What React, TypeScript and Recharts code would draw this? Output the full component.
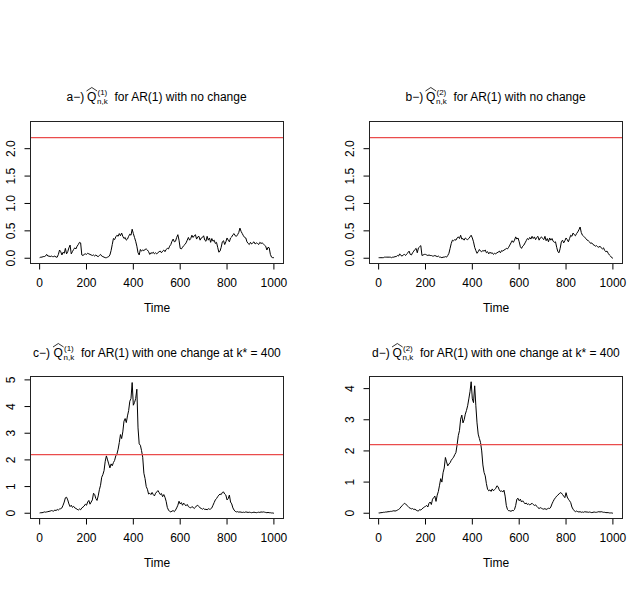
import React from 'react';
import { LineChart, Line, XAxis, YAxis, ReferenceLine } from 'recharts';

// time axis: one value every 5 time units, t = 0 .. 1000
const TIME_STEP = 5;
const xTicks = [0, 200, 400, 600, 800, 1000];
const threshold = 2.2;
const yTicksAB = [0, 0.5, 1, 1.5, 2];
const yTicksC = [0, 1, 2, 3, 4, 5];
const yTicksD = [0, 1, 2, 3, 4];

// a) Q^(1) for AR(1) with no change
const seriesA = [
  0.01, 0.02, 0.02, 0.03, 0.03, 0.04, 0.07, 0.04, 0.04, 0.03,
  0.04, 0.03, 0.03, 0.04, 0.02, 0.02, 0.07, 0.15, 0.12, 0.06,
  0.11, 0.09, 0.18, 0.08, 0.12, 0.19, 0.24, 0.08, 0.12, 0.16,
  0.19, 0.17, 0.22, 0.25, 0.29, 0.28, 0.06, 0.05, 0.07, 0.08,
  0.07, 0.09, 0.08, 0.07, 0.06, 0.05, 0.06, 0.04, 0.06, 0.04,
  0.03, 0.05, 0.07, 0.04, 0.03, 0.02, 0.01, 0.01, 0.02, 0.03,
  0.06, 0.14, 0.25, 0.36, 0.34, 0.39, 0.42, 0.40, 0.45, 0.41,
  0.46, 0.40, 0.36, 0.38, 0.33, 0.35, 0.40, 0.44, 0.42, 0.53,
  0.45, 0.38, 0.31, 0.22, 0.10, 0.06, 0.16, 0.13, 0.15, 0.14,
  0.16, 0.17, 0.15, 0.12, 0.07, 0.10, 0.09, 0.11, 0.08, 0.10,
  0.08, 0.10, 0.12, 0.13, 0.10, 0.13, 0.15, 0.12, 0.16, 0.18,
  0.17, 0.22, 0.25, 0.31, 0.35, 0.30, 0.31, 0.38, 0.43, 0.33,
  0.18, 0.17, 0.20, 0.23, 0.25, 0.28, 0.33, 0.38, 0.33, 0.36,
  0.42, 0.38, 0.41, 0.43, 0.35, 0.39, 0.40, 0.33, 0.37, 0.38,
  0.41, 0.33, 0.31, 0.40, 0.33, 0.37, 0.29, 0.36, 0.31, 0.33,
  0.27, 0.29, 0.20, 0.11, 0.13, 0.20, 0.30, 0.32, 0.25, 0.30,
  0.37, 0.33, 0.30, 0.37, 0.39, 0.43, 0.45, 0.41, 0.40, 0.43,
  0.47, 0.55, 0.49, 0.45, 0.41, 0.38, 0.37, 0.30, 0.27, 0.25,
  0.29, 0.26, 0.28, 0.30, 0.26, 0.28, 0.27, 0.25, 0.29, 0.27,
  0.28, 0.26, 0.24, 0.22, 0.15, 0.20, 0.19, 0.07, 0.02, 0.01,
  0.01,
];

// b) Q^(2) for AR(1) with no change
const seriesB = [
  0.01, 0.01, 0.01, 0.01, 0.01, 0.02, 0.02, 0.02, 0.02, 0.02,
  0.02, 0.01, 0.02, 0.02, 0.03, 0.03, 0.05, 0.04, 0.08, 0.05,
  0.04, 0.06, 0.07, 0.05, 0.08, 0.10, 0.13, 0.07, 0.06, 0.10,
  0.13, 0.16, 0.18, 0.10, 0.19, 0.21, 0.23, 0.05, 0.06, 0.07,
  0.07, 0.06, 0.05, 0.06, 0.05, 0.05, 0.04, 0.04, 0.05, 0.04,
  0.03, 0.04, 0.02, 0.02, 0.01, 0.02, 0.02, 0.03, 0.02, 0.05,
  0.09, 0.18, 0.27, 0.33, 0.32, 0.34, 0.33, 0.37, 0.39, 0.36,
  0.42, 0.35, 0.36, 0.33, 0.37, 0.35, 0.34, 0.36, 0.39, 0.42,
  0.37, 0.30, 0.20, 0.14, 0.09, 0.12, 0.16, 0.13, 0.12, 0.14,
  0.13, 0.15, 0.10, 0.12, 0.08, 0.11, 0.09, 0.10, 0.07, 0.09,
  0.08, 0.10, 0.11, 0.13, 0.10, 0.14, 0.13, 0.15, 0.16, 0.18,
  0.17, 0.20, 0.24, 0.28, 0.32, 0.29, 0.33, 0.39, 0.35, 0.37,
  0.30, 0.21, 0.18, 0.22, 0.24, 0.28, 0.32, 0.36, 0.34, 0.38,
  0.35, 0.40, 0.36, 0.39, 0.34, 0.38, 0.40, 0.33, 0.37, 0.39,
  0.36, 0.34, 0.40, 0.32, 0.36, 0.30, 0.37, 0.33, 0.36, 0.31,
  0.29, 0.30, 0.20, 0.12, 0.10, 0.18, 0.30, 0.33, 0.28, 0.32,
  0.37, 0.34, 0.30, 0.36, 0.42, 0.40, 0.46, 0.43, 0.41, 0.45,
  0.48, 0.52, 0.57, 0.47, 0.42, 0.40, 0.38, 0.36, 0.33, 0.32,
  0.30, 0.27, 0.28, 0.25, 0.24, 0.22, 0.23, 0.21, 0.20, 0.22,
  0.19, 0.17, 0.19, 0.14, 0.12, 0.13, 0.09, 0.06, 0.04, 0.01,
  0.00,
];

// c) Q^(1) for AR(1) with one change at k* = 400
const seriesC = [
  0.01, 0.02, 0.02, 0.03, 0.05, 0.04, 0.05, 0.06, 0.07, 0.08,
  0.10, 0.09, 0.08, 0.12, 0.10, 0.14, 0.12, 0.16, 0.17, 0.20,
  0.30, 0.42, 0.58, 0.60, 0.50, 0.35, 0.25, 0.30, 0.22, 0.26,
  0.20, 0.18, 0.15, 0.12, 0.16, 0.13, 0.20, 0.23, 0.27, 0.34,
  0.30, 0.42, 0.48, 0.34, 0.42, 0.50, 0.75, 0.70, 0.55, 0.48,
  0.65, 0.88, 1.05, 1.35, 1.45, 1.60, 1.95, 2.15, 2.00, 1.85,
  1.70, 1.85, 1.78, 1.90, 1.98, 2.15, 2.22, 2.40, 2.65, 2.95,
  2.80, 3.05, 3.45, 3.55, 3.40, 3.65, 3.85, 4.20, 4.30, 4.90,
  4.05, 4.15, 4.30, 4.65, 3.20, 2.60, 2.55, 2.35, 2.10, 1.50,
  1.30, 1.00, 0.90, 0.72, 0.75, 0.70, 0.78, 0.70, 0.65, 0.75,
  0.80, 0.85, 0.78, 0.70, 0.74, 0.62, 0.70, 0.60, 0.45, 0.22,
  0.12, 0.07, 0.05, 0.08, 0.10, 0.06, 0.12, 0.20, 0.30, 0.45,
  0.35, 0.40, 0.30, 0.38, 0.32, 0.28, 0.33, 0.25, 0.22, 0.20,
  0.25, 0.22, 0.18, 0.22, 0.28, 0.30, 0.25, 0.20, 0.18, 0.15,
  0.18, 0.14, 0.15, 0.13, 0.17, 0.15, 0.16, 0.20, 0.30, 0.40,
  0.50, 0.55, 0.62, 0.68, 0.72, 0.70, 0.78, 0.80, 0.72, 0.68,
  0.50, 0.55, 0.68, 0.42, 0.35, 0.20, 0.12, 0.07, 0.05, 0.06,
  0.04, 0.05, 0.04, 0.03, 0.04, 0.03, 0.05, 0.04, 0.03, 0.04,
  0.03, 0.02, 0.03, 0.04, 0.03, 0.02, 0.03, 0.04, 0.03, 0.05,
  0.04, 0.05, 0.04, 0.03, 0.02, 0.03, 0.02, 0.02, 0.01, 0.01,
  0.00,
];

// d) Q^(2) for AR(1) with one change at k* = 400
const seriesD = [
  0.01, 0.01, 0.02, 0.02, 0.03, 0.03, 0.04, 0.04, 0.05, 0.05,
  0.06, 0.06, 0.07, 0.08, 0.07, 0.08, 0.10, 0.12, 0.15, 0.20,
  0.24, 0.28, 0.32, 0.30, 0.26, 0.22, 0.18, 0.16, 0.14, 0.15,
  0.12, 0.13, 0.10, 0.08, 0.07, 0.12, 0.10, 0.14, 0.17, 0.20,
  0.22, 0.25, 0.20, 0.32, 0.36, 0.28, 0.45, 0.50, 0.55, 0.38,
  0.58, 0.70, 0.90, 1.11, 1.00, 1.30, 1.45, 1.79, 1.65, 1.52,
  1.58, 1.62, 1.70, 1.75, 1.80, 1.88, 1.95, 2.20, 2.49, 2.65,
  3.02, 3.15, 2.90, 3.00, 3.18, 3.30, 3.45, 3.67, 3.90, 4.22,
  3.67, 3.55, 4.09, 3.45, 2.90, 2.54, 2.40, 2.27, 2.00, 1.55,
  1.31, 1.20, 0.95, 0.77, 0.72, 0.75, 0.70, 0.78, 0.72, 0.76,
  0.80, 0.88, 0.85, 0.75, 0.70, 0.72, 0.68, 0.74, 0.55, 0.25,
  0.12, 0.08, 0.08, 0.06, 0.09, 0.08, 0.12, 0.25, 0.45, 0.48,
  0.40, 0.45, 0.36, 0.40, 0.35, 0.30, 0.33, 0.28, 0.30, 0.27,
  0.29, 0.32, 0.28, 0.25, 0.27, 0.22, 0.18, 0.15, 0.18, 0.16,
  0.14, 0.13, 0.15, 0.12, 0.14, 0.16, 0.15, 0.20, 0.30, 0.38,
  0.45, 0.50, 0.55, 0.58, 0.62, 0.66, 0.65, 0.60, 0.55, 0.50,
  0.66, 0.52, 0.45, 0.40, 0.34, 0.20, 0.13, 0.08, 0.05, 0.07,
  0.05, 0.04, 0.05, 0.03, 0.04, 0.03, 0.05, 0.04, 0.04, 0.03,
  0.04, 0.03, 0.02, 0.03, 0.04, 0.03, 0.03, 0.04, 0.05, 0.04,
  0.05, 0.04, 0.03, 0.03, 0.02, 0.02, 0.02, 0.01, 0.01, 0.01,
  0.00,
];

const FONT = '"Liberation Sans", Arimo, Arial, Helvetica, sans-serif';
const X_DOMAIN: [number, number] = [-39, 1041];

type PanelDef = {
  left: number;
  top: number;
  marginLeft: number;
  marginRight: number;
  marginTop: number;
  plotHeight: number;
  series: number[];
  yDomain: [number, number];
  yTicks: number[];
  yDigits: number;
  letter: string;
  sup: string;
  rest: string;
  restWidth: number;
  titleBaseline: number;
};

const CHART_W = 316;
const CHART_H = 240;
const Y_AXIS_W = 30;

const panels: PanelDef[] = [
  {
    left: 0, top: 80, marginLeft: 0.5, marginRight: 32.5, marginTop: 41.5, plotHeight: 142,
    series: seriesA, yDomain: [-0.096, 2.496], yTicks: yTicksAB, yDigits: 1,
    letter: 'a', sup: '(1)', rest: 'for AR(1) with no change', restWidth: 133, titleBaseline: 101,
  },
  {
    left: 316, top: 80, marginLeft: 23.5, marginRight: 9.5, marginTop: 41.5, plotHeight: 142,
    series: seriesB, yDomain: [-0.096, 2.496], yTicks: yTicksAB, yDigits: 1,
    letter: 'b', sup: '(2)', rest: 'for AR(1) with no change', restWidth: 133, titleBaseline: 101,
  },
  {
    left: 0, top: 340, marginLeft: 0.5, marginRight: 32.5, marginTop: 36.5, plotHeight: 142,
    series: seriesC, yDomain: [-0.197, 5.127], yTicks: yTicksC, yDigits: 0,
    letter: 'c', sup: '(1)', rest: 'for AR(1) with one change at k* = 400', restWidth: 200, titleBaseline: 357,
  },
  {
    left: 316, top: 340, marginLeft: 23.5, marginRight: 9.5, marginTop: 36.5, plotHeight: 142,
    series: seriesD, yDomain: [-0.169, 4.389], yTicks: yTicksD, yDigits: 0,
    letter: 'd', sup: '(2)', rest: 'for AR(1) with one change at k* = 400', restWidth: 200, titleBaseline: 357,
  },
];

function Panel({ p }: { p: PanelDef }) {
  const data = p.series.map((v, i) => ({ t: i * TIME_STEP, v }));
  const plotLeft = p.marginLeft + Y_AXIS_W;
  const plotBottom = p.marginTop + p.plotHeight;
  const xAxisH = CHART_H - plotBottom;
  const plotW = CHART_W - plotLeft - p.marginRight;
  const cx = plotLeft + plotW / 2;
  const W = 48 + p.restWidth;
  const x0 = cx - W / 2;
  const tb = p.titleBaseline - p.top;

  const XTick = (props: any) => (
    <text x={props.x} y={plotBottom + 23} textAnchor="middle" fontFamily={FONT} fontSize={12} fill="#000">
      {props.payload.value}
    </text>
  );
  const YTick = (props: any) => {
    const bx = plotLeft - 15.5;
    return (
      <text
        x={bx}
        y={props.y}
        transform={`rotate(-90, ${bx}, ${props.y})`}
        textAnchor="middle"
        fontFamily={FONT}
        fontSize={12}
        fill="#000"
      >
        {Number(props.payload.value).toFixed(p.yDigits)}
      </text>
    );
  };

  return (
    <div style={{ position: 'absolute', left: p.left, top: p.top, width: CHART_W, height: CHART_H }}>
      <LineChart
        width={CHART_W}
        height={CHART_H}
        data={data}
        margin={{ top: p.marginTop, right: p.marginRight, bottom: 0, left: p.marginLeft }}
      >
        <XAxis
          dataKey="t"
          type="number"
          domain={X_DOMAIN}
          ticks={xTicks}
          interval={0}
          allowDataOverflow
          height={xAxisH}
          axisLine={false}
          tickSize={6}
          tickLine={{ stroke: '#000', strokeWidth: 1 }}
          tick={<XTick />}
        />
        <YAxis
          type="number"
          domain={p.yDomain}
          ticks={p.yTicks}
          interval={0}
          allowDataOverflow
          width={Y_AXIS_W}
          axisLine={false}
          tickSize={6}
          tickLine={{ stroke: '#000', strokeWidth: 1 }}
          tick={<YTick />}
        />
        <Line
          type="linear"
          dataKey="v"
          stroke="#000"
          strokeWidth={1}
          dot={false}
          activeDot={false}
          isAnimationActive={false}
        />
        <ReferenceLine y={threshold} stroke="#ea4c4c" strokeWidth={1.2} ifOverflow="visible" />
      </LineChart>
      <svg
        width={CHART_W}
        height={CHART_H}
        style={{ position: 'absolute', left: 0, top: 0, pointerEvents: 'none', overflow: 'visible' }}
      >
        <rect
          x={plotLeft}
          y={p.marginTop}
          width={plotW}
          height={p.plotHeight}
          fill="none"
          stroke="#222"
          strokeWidth={1}
        />
        <g fontFamily={FONT} fill="#000">
          <text x={x0} y={tb} fontSize={12}>{p.letter}−)</text>
          <text x={x0 + 20.5} y={tb} fontSize={12}>Q</text>
          <path
            d={`M${x0 + 20} ${tb - 10} L${x0 + 25.3} ${tb - 13.5} L${x0 + 30.6} ${tb - 10}`}
            stroke="#000"
            strokeWidth={0.8}
            fill="none"
          />
          <text x={x0 + 31} y={tb - 6} fontSize={8}>{p.sup}</text>
          <text x={x0 + 30.5} y={tb + 3} fontSize={8}>n,k</text>
          <text x={x0 + 48} y={tb} fontSize={12}>{p.rest}</text>
          <text x={cx} y={plotBottom + 48} fontSize={12} textAnchor="middle">Time</text>
        </g>
      </svg>
    </div>
  );
}

export default function App() {
  return (
    <div style={{ position: 'absolute', left: 0, top: 0, width: 632, height: 600, background: '#fff' }}>
      {panels.map((p) => (
        <Panel key={p.letter} p={p} />
      ))}
    </div>
  );
}
